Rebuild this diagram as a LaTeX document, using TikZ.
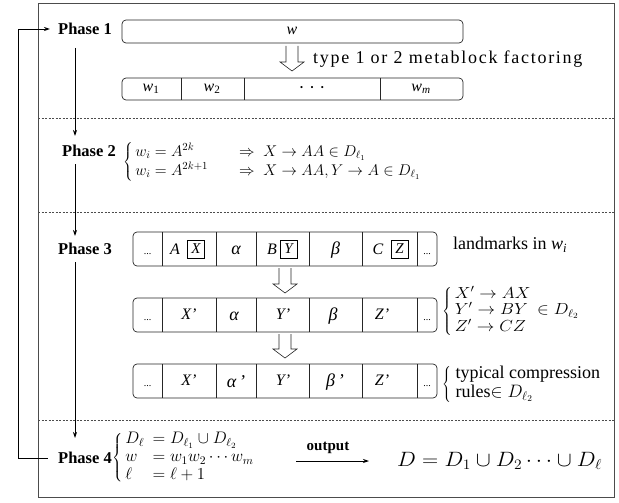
\RequirePackage{fix-cm}
\documentclass[tikz,border=0pt]{standalone}
\usepackage{graphicx}
\usepackage{fontspec}
\setmainfont{Liberation Serif}
\usetikzlibrary{arrows.meta,calc}
\newcommand\hollowarr[3]{%
  \draw[hollow] (#1-6,#2) -- (#1-6,#3-9) -- (#1-12,#3-9) -- (#1,#3) -- (#1+12,#3-9) -- (#1+6,#3-9) -- (#1+6,#2);}
\begin{document}
\begin{tikzpicture}[x=1pt,y=-1pt,
  phase/.style={font=\fontsize{16.5}{18}\selectfont\bfseries, inner sep=1pt},
  cell/.style={font=\fontsize{16}{18}\selectfont\itshape, inner sep=1pt},
  greek/.style={font=\fontsize{18}{20}\selectfont\itshape, inner sep=1pt},
  txt/.style={font=\fontsize{18}{20}\selectfont, inner sep=0pt},
  dots/.style={font=\fontsize{10}{12}\selectfont, inner sep=0pt},
  lmbox/.style={draw=black, line width=1pt, inner sep=1.5pt, minimum width=17pt, minimum height=18pt, font=\fontsize{15}{17}\selectfont\itshape},
  frm/.style={draw=black!70, line width=0.6pt},
  sep/.style={draw=black!70, dash pattern=on 2pt off 1.5pt, line width=0.5pt},
  rbox/.style={draw=black!85, line width=0.7pt, rounded corners=4pt},
  divl/.style={draw=black!85, line width=0.6pt},
  flow/.style={-{Stealth[length=6pt,width=4pt]}, line width=0.8pt},
  hollow/.style={draw=black!85, line width=0.6pt}]
\useasboundingbox (0,0) rectangle (619,503);
% frame and separators
\draw[frm] (38,3) rectangle (614,497);
\draw[sep] (38,118) -- (614,118);
\draw[sep] (38,212) -- (614,212);
\draw[sep] (38,420) -- (614,420);
% phase labels
\node[phase] (p1) at (85,29) {Phase 1};
\node[phase] (p2) at (89,151) {Phase 2};
\node[phase] (p3) at (85,249) {Phase 3};
\node[phase] (p4) at (85,458) {Phase 4};
% flow arrows
\coordinate (a1s) at (75,48);  \coordinate (a1e) at (75,136);
\coordinate (a2s) at (75,164); \coordinate (a2e) at (75,236);
\coordinate (a3s) at (75,262); \coordinate (a3e) at (75,438);
\draw[flow] (a1s) -- (a1e);
\draw[flow] (a2s) -- (a2e);
\draw[flow] (a3s) -- (a3e);
\draw[flow, shorten <=9pt, shorten >=7pt] (p4.west) -- ++(-39,0) |- (p1.west);
% Phase 1
\draw[rbox] (122,20) rectangle (463,43);
\node[cell] (w) at (292,31) {w};
\hollowarr{292}{46}{71}
\node[txt, anchor=west, font=\fontsize{18}{20}\selectfont\addfontfeature{LetterSpace=9.5}] (fact) at (313,59) {type 1 or 2 metablock factoring};
\draw[rbox] (122,78) rectangle (463,100);
\draw[divl] (181,78) -- (181,100);
\draw[divl] (244,78) -- (244,100);
\draw[divl] (380,78) -- (380,100);
\node[cell] (w1) at (151,89) {w\textsubscript{\upshape 1}};
\node[cell] (w2) at (212,89) {w\textsubscript{\upshape 2}};
\node[txt] (wd) at (312,90) {· · ·};
\node[cell] (wm) at (421,89) {w\textsubscript{m}};
% Phase 2
\node[anchor=west, inner sep=0pt, font=\fontsize{14.4}{16.7}\selectfont] (eq2) at (123,162)
  {\scalebox{1.08}{$\left\{\,\begin{array}{@{}l@{\hspace{2em}}l@{}}
   w_i = A^{2k} & \Rightarrow\; X\to AA\in D_{\ell_1}\\
   w_i = A^{2k+1} & \Rightarrow\; X\to AA, Y\to A\in D_{\ell_1}
   \end{array}\right.$}};
% Phase 3 rows
\foreach \t/\b in {232/266, 298/332, 364/398}{
  \draw[rbox] (133,\t) rectangle (437,\b);
  \foreach \x in {162,216,256,309,362,417} \draw[divl] (\x,\t) -- (\x,\b);
}
% row 1
\node[dots] (r1a) at (147.5,254) {...};
\node[cell] (r1A) at (175,249) {A};
\node[lmbox] (r1X) at (196,249) {X};
\node[greek] (r1b) at (236,250) {α};
\node[cell] (r1B) at (272,249) {B};
\node[lmbox] (r1Y) at (288.5,249) {Y};
\node[greek] (r1c) at (335.5,250) {β};
\node[cell] (r1C) at (378,249) {C};
\node[lmbox] (r1Z) at (399.5,249) {Z};
\node[dots] (r1d) at (427,254) {...};
\hollowarr{285}{268}{293}
% row 2
\node[dots] (r2a) at (147.5,320) {...};
\node[cell] (r2X) at (189,314) {X'};
\node[greek] (r2b) at (234,316) {α};
\node[cell] (r2Y) at (283,314) {Y'};
\node[greek] (r2c) at (333,316) {β};
\node[cell] (r2Z) at (382,314) {Z'};
\node[dots] (r2d) at (427,320) {...};
\hollowarr{285}{334}{358}
% row 3
\node[dots] (r3a) at (147.5,386) {...};
\node[cell] (r3X) at (189,380) {X'};
\node[greek] (r3b) at (236,382) {α\,'};
\node[cell] (r3Y) at (283,380) {Y'};
\node[greek] (r3c) at (335,382) {β\,'};
\node[cell] (r3Z) at (382,380) {Z'};
\node[dots] (r3d) at (427,386) {...};
% right side of Phase 3
\node[txt, anchor=west] (lm) at (453,245) {landmarks in \textit{w\textsubscript{i}}};
\node[anchor=west, inner sep=0pt, font=\fontsize{16}{15}\selectfont] (rules) at (442,311)
  {\scalebox{1.1}[1]{$\left\{\,\begin{array}{@{}l@{}}
   X'\to AX\\
   Y'\to BY\ \in D_{\ell_2}\\
   Z'\to CZ
   \end{array}\right.$}};
\node[anchor=west, inner sep=0pt, font=\fontsize{18}{19}\selectfont] (comp) at (442,384)
  {$\left\{\begin{tabular}{@{\ }l@{}}typical compression\\ rules$\in D_{\ell_2}$\end{tabular}\right.$};
% Phase 4
\node[anchor=west, inner sep=0pt, font=\fontsize{14.4}{15.3}\selectfont] (eq4) at (112,458)
  {\scalebox{1.16}{$\left\{\,\begin{array}{@{}l@{\enspace}l@{}}
   D_\ell & = D_{\ell_1}\cup D_{\ell_2}\\
   w & = w_1w_2\cdots w_m\\
   \ell & = \ell+1
   \end{array}\right.$}};
\node[font=\fontsize{15}{17}\selectfont\bfseries, inner sep=0pt] (outl) at (328,448) {output};
\coordinate (o1) at (296,461); \coordinate (o2) at (369,461);
\draw[flow] (o1) -- (o2);
\node[anchor=west, inner sep=0pt, font=\fontsize{20.74}{22}\selectfont] (DD) at (397,461)
  {\scalebox{1.08}[1]{$D = D_1\cup D_2\cdots\cup D_\ell$}};
\end{tikzpicture}
\end{document}
